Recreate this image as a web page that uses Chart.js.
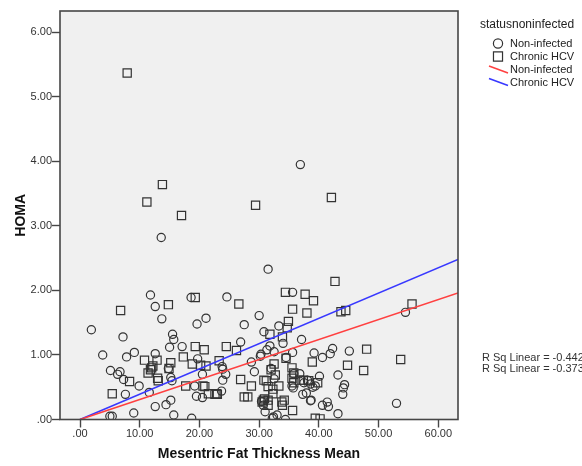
<!DOCTYPE html>
<html>
<head>
<meta charset="utf-8">
<script src="https://cdn.jsdelivr.net/npm/chart.js@4"></script>
<style>
  html, body { margin: 0; padding: 0; background: #fff; }
  #wrap { width: 582px; height: 466px; }
</style>
</head>
<body>
<div id="wrap"><canvas id="scatterChart" width="582" height="466"></canvas></div>
<script>
// values
const nonInfected = [
    [36.9, 3.95], [13.6, 2.82], [31.5, 2.33], [11.8, 1.93], [12.6, 1.75], [13.7, 1.56], [18.6, 1.89],
    [24.6, 1.90], [21.1, 1.57], [19.6, 1.48], [30.0, 1.61], [27.5, 1.47], [35.6, 1.97], [54.5, 1.66],
    [1.9, 1.39], [7.2, 1.28], [15.5, 1.32], [15.7, 1.24], [15.0, 1.12], [17.1, 1.13], [26.9, 1.20],
    [33.3, 1.45], [30.8, 1.36], [34.0, 1.18], [37.1, 1.24], [31.3, 1.08], [32.5, 1.05], [35.6, 1.04],
    [30.2, 0.98], [39.2, 1.03], [42.3, 1.10], [41.9, 1.02], [45.1, 1.06], [40.6, 0.96], [43.2, 0.69],
    [40.1, 0.67], [44.3, 0.54], [44.1, 0.49], [44.0, 0.39], [40.6, 0.22], [41.4, 0.27], [41.6, 0.20],
    [43.2, 0.09], [53.0, 0.25], [38.7, 0.30], [37.9, 0.41], [37.3, 0.39], [3.8, 1.00], [9.1, 1.04],
    [7.8, 0.97], [12.6, 1.02], [5.1, 0.76], [6.7, 0.74], [6.3, 0.70], [7.3, 0.62], [9.9, 0.52],
    [15.2, 0.65], [15.4, 0.60], [14.8, 0.79], [19.7, 0.94], [23.8, 0.82], [23.9, 0.78], [20.5, 0.70],
    [24.4, 0.70], [23.9, 0.61], [28.7, 0.89], [29.2, 0.74], [7.6, 0.39], [11.6, 0.42], [19.2, 0.52],
    [19.5, 0.36], [20.5, 0.34], [23.7, 0.44], [15.2, 0.30], [14.4, 0.23], [12.6, 0.20], [9.0, 0.10],
    [5.0, 0.05], [5.4, 0.05], [15.7, 0.07], [18.7, 0.02], [30.7, 0.22], [31.0, 0.12], [32.5, 0.63],
    [33.0, 0.07], [32.2, 0.02], [34.4, 0.00], [34.5, 0.96], [35.8, 0.71], [36.8, 0.71], [35.5, 0.52],
    [35.7, 0.49], [37.5, 0.57], [38.1, 0.61], [38.6, 0.55], [39.0, 0.50], [39.4, 0.52], [32.4, 0.04],
    [30.3, 1.01], [31.8, 1.14], [32.0, 0.79], [30.4, 0.28], [38.6, 0.29]
];
const chronicHCV = [
    [7.9, 5.37], [13.8, 3.64], [11.2, 3.37], [17.0, 3.16], [29.4, 3.32], [42.1, 3.44], [42.7, 2.14],
    [6.8, 1.69], [14.8, 1.78], [19.3, 1.89], [26.6, 1.79], [34.4, 1.97], [37.7, 1.94], [39.1, 1.84],
    [35.6, 1.71], [38.0, 1.65], [43.7, 1.67], [44.5, 1.69], [55.6, 1.79], [19.3, 1.13], [20.8, 1.08],
    [24.5, 1.13], [26.2, 1.07], [34.9, 1.52], [34.7, 1.42], [31.8, 1.32], [33.9, 1.28], [48.0, 1.09],
    [53.7, 0.93], [38.9, 0.89], [44.8, 0.84], [47.5, 0.76], [39.4, 0.02], [40.2, 0.01], [10.8, 0.92],
    [12.9, 0.92], [12.2, 0.83], [12.0, 0.80], [11.8, 0.77], [11.4, 0.72], [8.3, 0.59], [13.0, 0.64],
    [13.1, 0.60], [14.9, 0.79], [15.2, 0.88], [17.3, 0.97], [18.8, 0.86], [20.2, 0.84], [21.1, 0.83],
    [23.3, 0.91], [26.9, 0.62], [28.7, 0.52], [5.4, 0.40], [17.7, 0.52], [20.6, 0.52], [21.5, 0.40],
    [22.6, 0.39], [23.0, 0.39], [27.5, 0.35], [28.1, 0.35], [30.9, 0.32], [30.5, 0.27], [30.8, 0.61],
    [31.2, 0.60], [32.0, 0.77], [32.5, 0.86], [33.3, 0.52], [31.5, 0.51], [32.3, 0.40], [33.9, 0.22],
    [34.2, 0.30], [35.6, 0.14], [34.5, 0.95], [35.5, 0.80], [35.8, 0.72], [35.8, 0.57], [36.8, 0.61],
    [38.3, 0.60], [39.8, 0.57], [31.5, 0.22], [32.7, 0.69], [33.8, 0.27], [35.5, 0.64], [37.4, 0.61],
    [30.7, 0.30], [31.5, 0.30], [32.3, 0.47], [20.9, 0.51], [22.9, 0.40]
];
// fit lines (through origin), end points at right edge of plot
const fitNonInfected = [[0, 0], [63.3, 1.96]];
const fitChronicHCV = [[0, 0], [63.3, 2.48]];

const xTicks = [0, 10, 20, 30, 40, 50, 60];
const yTicks = [0, 1, 2, 3, 4, 5, 6];
const groupLabels = ['Non-infected', 'Chronic HCV'];
const legendTitle = 'statusnoninfected';
const rSqLabels = ['R Sq Linear = -0.442', 'R Sq Linear = -0.373'];

const FONT = "'Liberation Sans', Arial, sans-serif";
const frameColor = '#464646';

function fmt(v) {
    return v === 0 ? '.00' : v.toFixed(2);
}
function toPoints(arr) {
    return arr.map(p => ({ x: p[0], y: p[1] }));
}

// grey plot background + box round it
const framePlugin = {
    id: 'frame',
    beforeDatasetsDraw(chart) {
        const a = chart.chartArea, ctx = chart.ctx;
        ctx.save();
        ctx.fillStyle = '#f0f0f0';
        ctx.fillRect(a.left, a.top, a.right - a.left, a.bottom - a.top);
        ctx.restore();
    },
    afterDatasetsDraw(chart) {
        const a = chart.chartArea, ctx = chart.ctx;
        ctx.save();
        ctx.strokeStyle = frameColor;
        ctx.lineWidth = 1.6;
        ctx.strokeRect(a.left, a.top, a.right - a.left, a.bottom - a.top);
        ctx.restore();
    }
};

// SPSS style legend and R Sq notes on the right
const sideLegend = {
    id: 'sideLegend',
    afterDraw(chart) {
        const ctx = chart.ctx;
        const ds = chart.data.datasets;
        ctx.save();
        ctx.fillStyle = '#222';
        ctx.textBaseline = 'middle';
        ctx.textAlign = 'left';
        ctx.font = '12px ' + FONT;
        ctx.fillText(legendTitle, 480, 25);

        const rowY = [43.5, 56.5, 70, 82.5];
        ctx.font = '11px ' + FONT;
        ds.forEach((d, i) => {
            const y = rowY[i];
            if (d.showLine) {
                ctx.strokeStyle = d.borderColor;
                ctx.lineWidth = 1.6;
                ctx.beginPath();
                ctx.moveTo(489, y - 4);
                ctx.lineTo(508, y + 3);
                ctx.stroke();
            } else {
                ctx.strokeStyle = d.borderColor;
                ctx.fillStyle = 'rgba(0,0,0,0)';
                ctx.lineWidth = 1.2;
                Chart.helpers.drawPoint(ctx, {
                    pointStyle: d.pointStyle,
                    radius: d.pointStyle === 'rect' ? 6.4 : 4.6,
                    rotation: 0,
                    borderWidth: 1.2
                }, 498, y);
            }
            ctx.fillStyle = '#222';
            ctx.fillText(d.label, 510, y);
        });

        ctx.fillStyle = '#333';
        rSqLabels.forEach((t, i) => ctx.fillText(t, 482, 358 + i * 11));
        ctx.restore();
    }
};

function createScatterChart() {
    const ctx = document.getElementById('scatterChart').getContext('2d');
    const pointColor = '#333333';

    new Chart(ctx, {
        type: 'scatter',
        data: {
            datasets: [
                {
                    label: groupLabels[0],
                    data: toPoints(nonInfected),
                    pointStyle: 'circle',
                    pointRadius: 4.1,
                    borderColor: pointColor,
                    backgroundColor: 'rgba(0,0,0,0)',
                    borderWidth: 1.2,
                    order: 2
                },
                {
                    label: groupLabels[1],
                    data: toPoints(chronicHCV),
                    pointStyle: 'rect',
                    pointRadius: 5.8,
                    borderColor: pointColor,
                    backgroundColor: 'rgba(0,0,0,0)',
                    borderWidth: 1.2,
                    order: 2
                },
                {
                    label: groupLabels[0],
                    data: toPoints(fitNonInfected),
                    showLine: true,
                    pointRadius: 0,
                    borderColor: 'rgb(255, 64, 64)',
                    borderWidth: 1.6,
                    order: 1
                },
                {
                    label: groupLabels[1],
                    data: toPoints(fitChronicHCV),
                    showLine: true,
                    pointRadius: 0,
                    borderColor: 'rgb(56, 56, 255)',
                    borderWidth: 1.6,
                    order: 1
                }
            ]
        },
        options: {
            responsive: false,
            animation: false,
            devicePixelRatio: 1,
            layout: {
                padding: { top: 11, right: 124, left: 0, bottom: 0 }
            },
            scales: {
                x: {
                    type: 'linear',
                    min: -3.35,
                    max: 63.3,
                    afterBuildTicks: scale => { scale.ticks = xTicks.map(v => ({ value: v })); },
                    afterFit: scale => { scale.height = 46.5; },
                    grid: {
                        drawOnChartArea: false,
                        drawTicks: true,
                        tickLength: 8,
                        tickColor: frameColor,
                        tickWidth: 1.4
                    },
                    border: { display: false },
                    ticks: {
                        autoSkip: false,
                        maxRotation: 0,
                        padding: 0,
                        color: '#333',
                        font: { size: 11, family: FONT },
                        callback: v => fmt(v)
                    },
                    title: {
                        display: true,
                        text: 'Mesentric Fat Thickness Mean',
                        color: '#111',
                        font: { size: 14, weight: 'bold', family: FONT },
                        padding: { top: 0, bottom: 3 }
                    }
                },
                y: {
                    type: 'linear',
                    min: 0,
                    max: 6.33,
                    afterBuildTicks: scale => { scale.ticks = yTicks.map(v => ({ value: v })); },
                    afterFit: scale => { scale.width = 60; },
                    grid: {
                        drawOnChartArea: false,
                        drawTicks: true,
                        tickLength: 8,
                        tickColor: frameColor,
                        tickWidth: 1.4
                    },
                    border: { display: false },
                    ticks: {
                        autoSkip: false,
                        padding: 0,
                        color: '#333',
                        font: { size: 11, family: FONT },
                        callback: v => fmt(v)
                    },
                    title: {
                        display: true,
                        text: 'HOMA',
                        color: '#111',
                        font: { size: 14, weight: 'bold', family: FONT },
                        padding: { top: 13, bottom: 0 }
                    }
                }
            },
            plugins: {
                legend: { display: false },
                tooltip: { enabled: false }
            }
        },
        plugins: [framePlugin, sideLegend]
    });
}

createScatterChart();
</script>
</body>
</html>
